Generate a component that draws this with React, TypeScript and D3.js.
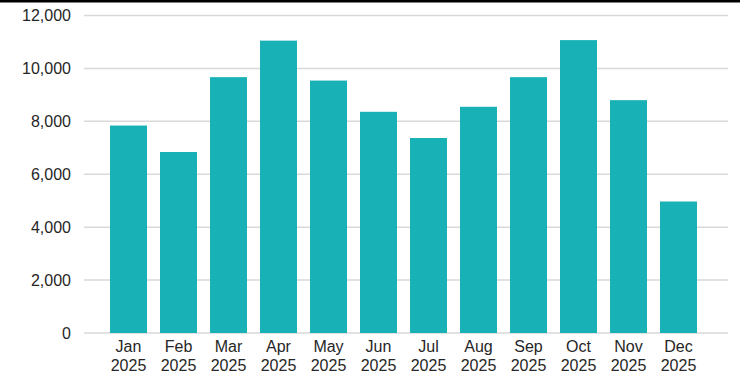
import React from "react";
import * as d3 from "d3";

const months = ["Jan", "Feb", "Mar", "Apr", "May", "Jun", "Jul", "Aug", "Sep", "Oct", "Nov", "Dec"];
const yearLabel = "2025";
const values = [7840, 6840, 9670, 11050, 9540, 8360, 7370, 8550, 9670, 11070, 8800, 4970];
const yTicks = [0, 2000, 4000, 6000, 8000, 10000, 12000];

const W = 740;
const H = 380;

export default function App() {
  const x = d3
    .scaleBand<string>()
    .domain(months)
    .range([103.5, 703.5])
    .paddingInner(0.26)
    .paddingOuter(0.13);
  const y = d3.scaleLinear().domain([0, 12000]).range([333, 15.5]);
  const fmt = d3.format(",");
  const font = "'Liberation Sans', Arial, sans-serif";

  return (
    <div style={{ position: "fixed", left: 0, top: 0, width: W, height: H, background: "#fff" }}>
      <svg width={W} height={H} style={{ display: "block" }}>
        <rect x={0} y={0} width={W} height={H} fill="#fff" />
        <rect x={0} y={0} width={W} height={2.5} fill="#000" />
        {yTicks.map((t) => (
          <g key={t}>
            <line x1={84} x2={728} y1={y(t)} y2={y(t)} stroke="#d9d9d9" strokeWidth={1.5} />
            <text
              x={71}
              y={y(t)}
              dy="0.35em"
              textAnchor="end"
              fontFamily={font}
              fontSize={16}
              fill="#262626"
            >
              {fmt(t)}
            </text>
          </g>
        ))}
        {months.map((m, i) => (
          <rect
            key={m}
            x={x(m)}
            y={y(values[i])}
            width={x.bandwidth()}
            height={y(0) - y(values[i])}
            fill="#17b1b6"
          />
        ))}
        {months.map((m) => {
          const cx = (x(m) as number) + x.bandwidth() / 2;
          return (
            <text key={m} x={cx} textAnchor="middle" fontFamily={font} fontSize={16} fill="#262626">
              <tspan x={cx} y={352}>{m}</tspan>
              <tspan x={cx} y={371}>{yearLabel}</tspan>
            </text>
          );
        })}
      </svg>
    </div>
  );
}
